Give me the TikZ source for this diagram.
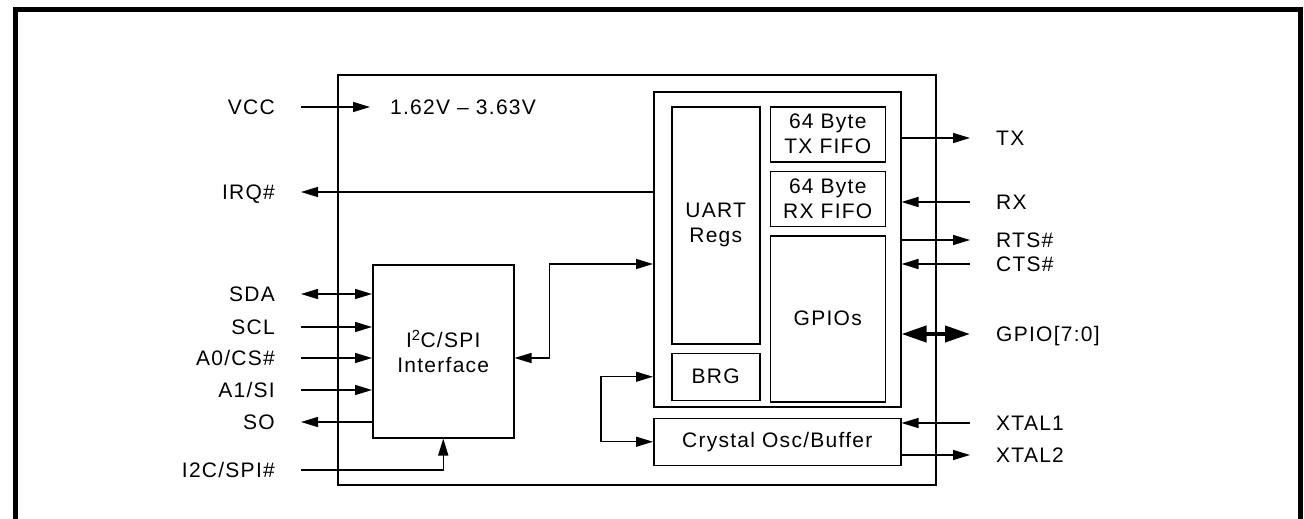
\documentclass[tikz,border=0pt]{standalone}
\usepackage{fontspec}
\setmainfont{Liberation Sans}[LetterSpace=6]
\usetikzlibrary{arrows.meta, positioning}

\begin{document}
\begin{tikzpicture}[
  x=1pt, y=-1pt,
  >={Triangle[length=17pt,width=10pt]},
  font=\fontsize{21}{25}\selectfont,
  node distance=26pt,
  chip/.style={draw, line width=1.7pt, inner sep=0pt, anchor=north west},
  block/.style={draw, line width=1.5pt, inner sep=0pt, anchor=north west, align=center},
  pinlbl/.style={inner sep=0pt, text height=15pt, text depth=0pt},
  sig/.style={line width=1.4pt},
  bus/.style={line width=4pt, <->, >={Triangle[length=25pt,width=16pt]}}
]
  \useasboundingbox (0,0) rectangle (1304,519);
  \draw[line width=5.5pt] (15.5,519) -- (15.5,9.5) -- (1300.5,9.5) -- (1300.5,519);

  % Chip outline and UART core
  \node[chip, minimum width=598pt, minimum height=410pt] (chip) at (337,74) {};
  \node[block, minimum width=247pt, minimum height=315pt] (core) at (653,91) {};
  \node[block, minimum width=88pt, minimum height=237pt] (regs) at (671,106) {UART\\Regs};
  \node[block, minimum width=88pt, minimum height=47pt, below=8pt of regs] (brg) {BRG};
  \node[block, minimum width=115pt, minimum height=55pt, right=9pt of regs.north east, anchor=north west] (txfifo) {64 Byte\\TX FIFO};
  \node[block, minimum width=115pt, minimum height=55pt, below=8pt of txfifo] (rxfifo) {64 Byte\\RX FIFO};
  \node[block, minimum width=115pt, minimum height=166pt, below=8pt of rxfifo] (gpios) {GPIOs};
  \node[block, minimum width=247pt, minimum height=47pt, below=10pt of core] (osc) {Crystal Osc/Buffer};

  % Host interface
  \node[block, minimum width=141pt, minimum height=173pt] (iface) at (372,264) {I\textsuperscript{2}C/SPI\\Interface};

  % Supply
  \coordinate (vccin) at (301,107);
  \coordinate (vccend) at (370,107);
  \node[pinlbl, left=of vccin] (vcc) {VCC};
  \node[pinlbl, right=20pt of vccend] (vrange) {1.62V -- 3.63V};
  \draw[sig, ->] (vccin) -- (vccend);

  % Interrupt
  \coordinate (irq) at (301,192);
  \node[pinlbl, left=of irq] (irqlbl) {IRQ\#};
  \draw[sig, ->] (core.west |- irq) -- (irq);

  % Host side pins
  \foreach \nm/\y/\txt/\dir in {sda/294/SDA/<->, scl/327/SCL/->, a0/358/{A0/CS\#}/->, a1/390/{A1/SI}/->, so/422/SO/<-} {
    \coordinate (\nm) at (301,\y);
    \node[pinlbl, left=of \nm] (\nm lbl) {\txt};
    \draw[sig, \dir] (\nm) -- (iface.west |- \nm);
  }
  \coordinate (modesel) at (301,470);
  \node[pinlbl, left=of modesel] (modesellbl) {I2C/SPI\#};
  \draw[sig, ->] (modesel) -| (iface.south);

  % UART side pins
  \foreach \nm/\y/\txt/\dir in {tx/138/TX/<-, rx/202/RX/->, rts/240/RTS\#/<-, cts/264/CTS\#/->} {
    \coordinate (\nm) at (970,\y);
    \node[pinlbl, right=of \nm] (\nm lbl) {\txt};
    \draw[sig, \dir] (\nm) -- (core.east |- \nm);
  }
  \coordinate (gpio) at (970,334);
  \node[pinlbl, right=of gpio] (gpiolbl) {GPIO[7:0]};
  \draw[bus] (core.east |- gpio) -- (gpio);

  \foreach \nm/\y/\txt/\dir in {xtala/423/XTAL1/->, xtalb/455/XTAL2/<-} {
    \coordinate (\nm) at (970,\y);
    \node[pinlbl, right=of \nm] (\nm lbl) {\txt};
    \draw[sig, \dir] (\nm) -- (osc.east |- \nm);
  }

  % Internal links
  \draw[sig, <->] (iface.east |- a0) -- ++(35,0) |- (core.west |- iface.north);
  \draw[sig, <->] (core.west |- brg) -- ++(-52,0) |- (osc.west);

\end{tikzpicture}
\end{document}
